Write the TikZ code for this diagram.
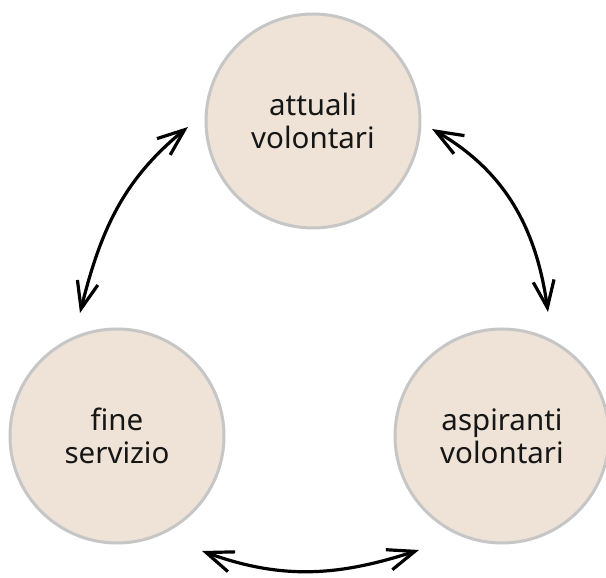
\documentclass[tikz,border=0pt]{standalone}
\usepackage{fontspec}
\setmainfont{Noto Sans}
\usetikzlibrary{arrows.meta}
\definecolor{circfill}{HTML}{EEE3D6}
\definecolor{circline}{HTML}{C6C6C6}
\definecolor{txt}{HTML}{161616}
\begin{document}
\begin{tikzpicture}[x=1pt,y=1pt,
  stage/.style={circle, minimum size=214pt, inner sep=0pt, fill=circfill, draw=circline, line width=3pt,
    text=txt, font=\fontsize{29.5}{33}\selectfont, align=center},
  link/.style={line width=3.2pt, {Straight Barb[length=27pt,width=21pt,line width=3.2pt]}-{Straight Barb[length=27pt,width=21pt,line width=3.2pt]}}]
\useasboundingbox (0,0) rectangle (606,578);
\node[stage] (top) at (313,457) {attuali\\volontari};
\node[stage] (left) at (117,142) {fine\\servizio};
\node[stage] (right) at (502,142) {aspiranti\\volontari};
\path (top) ++(-125,-6) coordinate (a);
\path (left) ++(-37,123) coordinate (b);
\path (top) ++(119,-8) coordinate (c);
\path (right) ++(46,124) coordinate (d);
\path (left) ++(85,-115) coordinate (e);
\path (right) ++(-83,-114) coordinate (f);
\draw[link] (b) to[out=76,in=219] (a);
\draw[link] (c) to[out=-30,in=98] (d);
\draw[link] (e) to[out=-20,in=198] (f);
\end{tikzpicture}
\end{document}
